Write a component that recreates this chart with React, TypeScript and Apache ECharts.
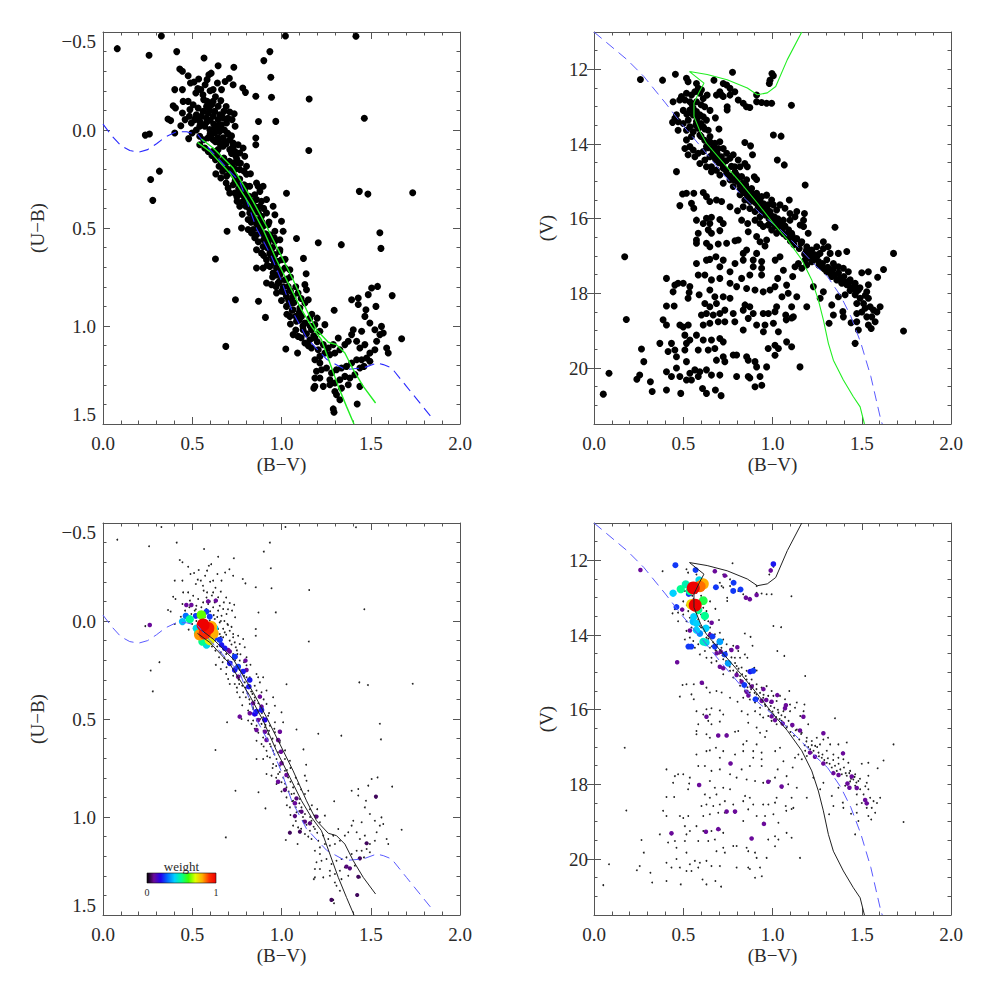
import React, { useEffect, useRef } from 'react';
import * as echarts from 'echarts';

// ---------- tick values ----------
const BV_MIN = 0, BV_MAX = 2, BV_STEP = 0.5;
const UB_MIN = -0.5, UB_MAX = 1.5, UB_STEP = 0.5;
const V_MIN = 11, V_MAX = 21.5, V_STEP = 0.5;
const V_MAJOR = [12, 14, 16, 18, 20];

// ---------- (B-V, U-B) stars ----------
const ubStars: number[][] = [
[0.08,-0.415],[0.327,-0.48],[0.258,-0.381],[0.413,-0.4],[0.566,-0.367],[0.645,-0.328],[0.733,-0.32],[0.935,-0.4],[0.901,-0.354],[1.022,-0.48],[1.417,-0.478],[0.94,-0.269],[0.783,-0.214],[0.798,-0.192],[0.856,-0.172],[0.944,-0.167],[1.155,-0.158],[1.464,-0.06],[0.871,-0.043],[0.968,-0.044],[0.856,0.041],[0.856,0.075],[1.153,0.105],[0.237,0.026],[0.26,0.02],[0.316,0.21],[0.267,0.253],[0.279,0.359],[1.028,0.323],[1.436,0.313],[1.484,0.327],[1.735,0.32],[1.551,0.524],[1.557,0.604],[1.206,0.575],[1.335,0.585],[1.084,0.554],[0.695,0.517],[0.63,0.658],[0.742,0.866],[0.871,0.874],[0.91,0.956],[0.688,1.104],[1.123,0.655],[1.138,0.733],
[0.43,-0.311],[0.445,-0.3],[0.477,-0.277],[0.49,-0.24],[0.51,-0.245],[0.536,-0.26],[0.593,-0.282],[0.606,-0.29],[0.583,-0.257],[0.572,-0.231],[0.548,-0.206],[0.531,-0.211],[0.402,-0.206],[0.445,-0.206],[0.52,-0.189],[0.617,-0.206],[0.664,-0.206],[0.684,-0.247],[0.708,-0.264],[0.729,-0.231],[0.641,-0.24],
[0.393,-0.124],[0.406,-0.112],[0.449,-0.146],[0.477,-0.146],[0.505,-0.129],[0.533,-0.112],[0.564,-0.155],[0.583,-0.146],[0.617,-0.146],[0.598,-0.1],[0.645,-0.121],[0.677,-0.095],[0.71,-0.092],[0.735,-0.083],[0.723,-0.053],[0.74,-0.019],[0.379,-0.048],[0.364,-0.056],[0.402,0.015],[0.436,-0.022],[0.46,-0.053],[0.484,-0.07],[0.445,-0.087],[0.487,-0.104],[0.523,-0.078],[0.551,-0.07],[0.579,-0.061],[0.617,-0.07],[0.645,-0.053],[0.664,-0.027],[0.692,-0.036],[0.697,0.015],[0.48,0.044],[0.499,0.015],[0.523,0],[0.542,-0.019],[0.57,-0.019],[0.598,-0.002],[0.626,-0.01],[0.654,0.007],[0.542,0.032],[0.564,0.05],[0.589,0.04],[0.617,0.05],[0.645,0.04],[0.673,0.04],[0.71,0.05],[0.542,0.075],[0.57,0.092],[0.589,0.109],[0.617,0.109],[0.645,0.1],[0.673,0.083],[0.71,0.1],[0.738,0.109],[0.766,0.117],[0.785,0.092],[0.794,0.134],[0.744,0.134],
[0.495,-0.036],[0.514,-0.053],[0.542,-0.044],[0.561,-0.095],[0.589,-0.087],[0.626,-0.095],[0.654,-0.078],[0.673,-0.061],[0.626,0.015],[0.607,0.024],[0.654,0.066],[0.682,0.058],[0.729,0.066],[0.757,0.075],[0.729,0.083],
[0.52,-0.06],[0.55,-0.03],[0.58,-0.04],[0.6,-0.05],[0.62,-0.03],[0.64,-0.02],[0.66,0.0],[0.68,0.0],[0.7,0.02],[0.72,0.03],[0.6,0.02],[0.63,0.06],[0.66,0.08],[0.69,0.07],[0.72,0.12],[0.75,0.15],[0.77,0.17],[0.79,0.21],[0.58,-0.12],[0.61,-0.13],[0.63,-0.17],[0.66,-0.15],[0.69,-0.12],[0.56,-0.18],[0.6,-0.2],[0.7,-0.06],
[0.63,0.151],[0.65,0.185],[0.677,0.143],[0.69,0.168],[0.708,0.16],[0.729,0.168],[0.753,0.168],[0.804,0.185],[0.766,0.202],[0.729,0.194],[0.71,0.219],[0.692,0.236],[0.66,0.245],[0.632,0.224],[0.738,0.236],[0.766,0.25],[0.804,0.226],[0.826,0.223],[0.804,0.287],[0.766,0.279],[0.729,0.279],[0.701,0.296],[0.71,0.321],[0.738,0.321],[0.763,0.321],[0.794,0.313],[0.822,0.287],[0.86,0.27],[0.869,0.287],[0.897,0.287],[0.879,0.313],[0.85,0.33],[0.819,0.338],[0.785,0.364],[0.751,0.364],[0.766,0.389],[0.8,0.389],[0.837,0.372],[0.86,0.355],[0.888,0.364],[0.916,0.355],[0.879,0.389],[0.85,0.406],[0.822,0.423],[0.841,0.449],[0.813,0.457],[0.86,0.457],[0.888,0.44],[0.916,0.423],[0.953,0.389],[0.963,0.432],[0.925,0.483],[0.897,0.491],[0.869,0.5],[0.841,0.508],[0.813,0.508],[0.776,0.5],[0.832,0.525],[0.86,0.534],[0.888,0.525],[0.907,0.542],[0.935,0.534],[0.963,0.517],[1.0,0.466],[1.009,0.517],[0.991,0.56],[0.963,0.568],[0.925,0.577],[0.897,0.594],[0.86,0.611],[0.888,0.628],[0.935,0.628],[0.963,0.636],[0.991,0.611],[1.0,0.662],[0.953,0.662],[0.916,0.662],[0.86,0.704],[0.897,0.704],[0.935,0.696],[0.972,0.704],[1.019,0.704],[1.047,0.713],[0.991,0.738],[0.953,0.73],[0.916,0.781],[0.944,0.789],[0.981,0.781],[1.019,0.764],[1.037,0.798],[1.0,0.823],[0.972,0.832],[1.028,0.849],[1.065,0.849],[1.093,0.832],[1.131,0.789],[1.14,0.815],[1.056,0.883],[1.028,0.9],[1.065,0.917],[1.103,0.908],[1.131,0.883],[1.15,0.866],[1.112,0.951],[1.084,0.976],[1.047,0.951],[1.131,0.985],[1.159,0.96],[1.187,0.993],[1.168,1.019],[1.121,1.019],[1.065,1.044],[1.093,1.053],[1.243,0.993],[1.215,1.027],[1.187,1.061],[1.159,1.07],[1.131,1.087],[1.168,1.112],[1.206,1.121],[1.234,1.095],[1.262,1.112],[1.29,1.095],[1.318,1.061],[1.295,0.92],[1.024,1.117],[1.09,1.138],[1.243,1.138],[1.215,1.155],[1.187,1.172],[1.215,1.189],[1.271,1.146],[1.299,1.138],[1.327,1.121],[1.355,1.095],[1.374,1.078],[1.393,1.044],[1.402,1.019],[1.449,1.027],[1.421,1.078],[1.439,1.112],[1.467,1.095],[1.495,1.138],[1.523,1.121],[1.533,1.078],[1.551,1.044],[1.56,1.002],[1.523,1.019],[1.495,0.985],[1.467,0.951],[1.473,0.917],[1.43,0.89],[1.393,0.866],[1.43,0.857],[1.486,0.84],[1.505,0.806],[1.538,0.798],[1.529,0.9],[1.62,0.845],[1.673,1.065],[1.589,1.112],[1.598,1.138],[1.57,1.036],[1.477,1.163],[1.449,1.172],[1.421,1.172],[1.393,1.189],[1.364,1.206],[1.336,1.214],[1.308,1.223],[1.28,1.24],[1.252,1.214],[1.224,1.223],[1.196,1.231],[1.215,1.265],[1.187,1.265],[1.271,1.274],[1.299,1.291],[1.327,1.274],[1.355,1.257],[1.383,1.265],[1.411,1.248],[1.439,1.308],[1.374,1.3],[1.336,1.317],[1.299,1.334],[1.271,1.3],[1.234,1.308],[1.187,1.308],[1.181,1.317],[1.308,1.351],[1.327,1.376],[1.29,1.423],[1.294,1.44],[1.424,1.398],[1.439,1.214],[1.462,1.206],[1.495,1.18],
[0.61,0.13],[0.64,0.13],[0.66,0.16],[0.68,0.19],[0.7,0.2],[0.72,0.21],[0.74,0.26],[0.76,0.3],[0.78,0.33],[0.79,0.28],[0.8,0.34],[0.82,0.4],[0.83,0.36],[0.84,0.44],[0.85,0.39],[0.86,0.48],[0.87,0.42],[0.88,0.5],[0.89,0.47],[0.9,0.56],[0.91,0.53],[0.92,0.6],[0.93,0.56],[0.94,0.64],[0.95,0.6],[0.96,0.68],[0.97,0.74],[0.98,0.67],[0.99,0.77],[1.0,0.72],[1.01,0.8],[1.02,0.83],[1.03,0.76],[1.04,0.87],[1.05,0.82],[1.06,0.92],[1.07,0.88],[1.08,0.95],[1.1,0.97],[1.1,0.93],[1.12,1.0],[1.14,1.04],[1.16,1.0],[1.18,1.05],[1.2,1.08],
[0.74,0.2],[0.67,0.21],[0.69,0.27],[0.75,0.34],[0.78,0.43],[0.81,0.37],[0.83,0.47],[0.85,0.55],[0.87,0.57],[0.9,0.64],[0.92,0.69],[0.95,0.75],[0.97,0.8],[1.0,0.87],[1.03,0.94],[1.05,0.99],[1.08,1.02],[1.11,1.06],[1.15,1.1],[0.9,0.4],[0.93,0.47],[0.96,0.55],[0.99,0.62],[1.02,0.66],[1.05,0.75],[1.08,0.8],[1.11,0.86],[1.17,0.94],[1.2,0.96]
];

// ---------- (B-V, V) stars ----------
const vStars: number[][] = [
[0.26,12.27],[0.384,12.29],[0.456,12.13],[0.776,12.08],[0.997,12.11],[1.005,12.17],[0.986,12.29],[0.982,12.38],[1.106,12.96],
[0.518,12.24],[0.527,12.33],[0.574,12.38],[0.584,12.51],[0.602,12.55],[0.565,12.6],[0.593,12.64],[0.546,12.69],[0.518,12.64],[0.49,12.73],[0.48,12.82],[0.509,12.82],[0.443,12.87],[0.537,12.87],[0.574,12.87],[0.612,12.78],[0.634,12.69],
[0.672,12.29],[0.724,12.38],[0.743,12.42],[0.705,12.6],[0.686,12.69],[0.724,12.73],[0.762,12.69],[0.789,12.6],[0.808,12.82],[0.746,13.0],[0.746,13.09],[0.836,12.91],[0.854,13.0],[0.873,13.02],[0.911,12.69],[0.911,12.87],[0.939,12.89],[0.967,12.91],[0.995,12.91],[0.762,12.51],[0.715,12.69],
[0.462,13.22],[0.453,13.31],[0.44,13.42],[0.471,13.4],[0.5,13.45],[0.528,13.36],[0.537,13.09],[0.556,13.04],[0.556,13.22],[0.574,13.13],[0.593,13.22],[0.612,13.27],[0.63,13.36],[0.574,13.4],[0.537,13.54],[0.518,13.63],[0.471,13.63],[0.556,13.67],[0.584,13.58],[0.612,13.54],[0.64,13.63],[0.593,13.76],[0.546,13.8],[0.518,13.89],[0.537,14.07],[0.509,14.12],[0.556,14.16],[0.527,14.29],[0.565,14.34],[0.584,14.25],[0.612,14.2],[0.63,14.07],[0.649,13.94],[0.677,13.98],[0.705,13.94],[0.724,14.12],[0.696,14.12],[0.668,14.2],[0.649,14.34],[0.621,14.43],[0.593,14.52],[0.63,14.61],[0.658,14.61],[0.686,14.43],[0.714,14.34],[0.743,14.25],[0.762,14.38],[0.78,14.29],[0.808,14.43],[0.845,14.52],[0.845,13.96],[0.877,14.05],[0.888,14.29],[0.859,14.61],[0.818,14.61],[0.789,14.61],[0.724,14.65],[0.743,14.79],[0.705,14.83],[0.686,14.7],[0.658,14.74],[0.462,14.74],[0.799,14.83],[0.827,14.87],[0.855,14.96],[0.898,14.88],[0.911,14.95],[0.762,14.96],[0.724,15.05],[0.78,15.14],[0.818,15.1],[0.855,15.19],[0.883,15.19],[0.911,15.32],[0.939,15.41],[0.967,15.37],[0.995,15.5],[1.005,15.63],[0.976,15.63],[0.948,15.68],[0.911,15.59],[0.873,15.54],[0.845,15.5],[0.818,15.36],[0.836,15.68],[0.873,15.73],[0.902,15.81],[0.93,15.95],[0.958,15.86],[0.986,15.81],[1.023,15.77],[1.042,15.63],[1.07,15.72],[1.094,15.5],[1.098,15.86],[1.126,15.95],[1.136,15.81],[1.179,15.86],[1.183,15.1],[1.005,13.76],[1.048,13.79],[1.027,14.43],[1.066,14.56],[1.174,16.04],[1.155,16.17],[1.174,16.21],[1.2,16.39],[1.098,16.04],[1.061,16.04],[1.033,16.08],[1.005,16.13],[0.976,16.17],[0.948,16.21],[0.995,16.3],[1.023,16.39],[1.051,16.3],[1.079,16.48],[1.107,16.39],[1.136,16.53],[1.164,16.62],[1.192,16.75],[1.22,16.84],[1.248,16.75],[1.285,16.62],[1.285,16.8],[1.311,16.75],[1.35,16.23],[1.266,16.93],[1.323,16.93],[1.369,16.93],[1.416,16.88],[1.678,16.93],[1.304,17.1],[1.341,17.2],[1.369,17.29],[1.397,17.33],[1.425,17.42],[1.5,17.45],[1.537,17.42],[1.622,17.36],[1.589,17.57],[1.239,16.97],[1.211,17.06],[1.183,17.1],[1.145,17.2],[1.126,17.29],[1.164,17.33],[1.192,17.24],[1.22,17.15],[1.258,17.15],[1.276,17.29],[1.304,17.42],[1.332,17.55],[1.36,17.64],[1.388,17.73],[1.416,17.77],[1.435,17.64],[1.463,17.73],[1.453,17.87],[1.481,17.91],[1.435,17.92],[1.407,18.04],[1.369,18.09],[1.463,18.04],[1.491,18.13],[1.472,18.27],[1.51,18.27],[1.537,17.77],[1.528,17.96],[1.537,18.13],[1.519,18.4],[1.547,18.36],[1.566,18.45],[1.603,18.36],[1.585,18.5],[1.472,18.54],[1.5,18.5],[1.528,18.63],[1.556,18.63],[1.575,18.76],[1.472,18.76],[1.44,18.79],[1.481,18.98],[1.537,18.85],[1.553,18.94],[1.734,19.01],[1.463,19.34],[1.394,18.49],[1.332,18.31],[1.341,18.58],[1.317,18.8],[1.285,17.96],[1.229,17.82],[1.267,18.13],[1.397,18.63],
[0.57,13.5],[0.6,13.8],[0.62,13.9],[0.64,14.1],[0.66,14.3],[0.68,14.4],[0.7,14.5],[0.72,14.55],[0.74,14.7],[0.76,14.85],[0.78,14.95],[0.8,15.0],[0.82,15.2],[0.84,15.3],[0.86,15.4],[0.88,15.45],[0.9,15.55],[0.92,15.7],[0.94,15.8],[0.96,15.9],[0.98,16.0],[1.0,16.05],[1.02,16.2],[1.04,16.25],[1.06,16.4],[1.08,16.45],[1.1,16.6],[1.12,16.7],[1.15,16.8],[1.18,16.95],[1.2,17.0],[1.23,17.1],[1.26,17.25],[1.29,17.35],[1.32,17.45],[1.35,17.5],[1.38,17.6],[1.41,17.7],[1.44,17.85],[1.47,17.95],
[0.58,13.3],[0.6,13.45],[0.62,13.6],[0.65,13.8],[0.67,14.05],[0.69,14.25],[0.71,14.4],[0.74,14.45],[0.77,14.6],[0.79,14.75],[0.81,14.9],[0.83,15.05],[0.85,15.1],[0.87,15.3],[0.89,15.35],[0.91,15.45],[0.93,15.55],[0.95,15.6],[0.97,15.75],[0.99,15.9],[1.01,15.95],[1.03,16.0],[1.05,16.15],[1.07,16.2],[1.09,16.3],[1.11,16.45],[1.13,16.55],[1.16,16.65],[1.19,16.85],[1.22,16.95],[1.25,17.0],[1.28,17.2],[1.31,17.3],[1.34,17.35],[1.37,17.45],[1.4,17.55],[1.43,17.7],[1.46,17.8],[1.49,17.85],[1.52,18.05],[0.55,12.95],[0.6,12.95],[0.62,13.0],[0.5,13.1],[0.52,13.2],[0.65,13.1],[0.68,13.3],[0.7,13.6],
[0.496,15.34],[0.518,15.32],[0.559,15.32],[0.612,15.3],[0.63,15.41],[0.546,15.59],[0.559,15.72],[0.481,15.65],[0.649,15.54],[0.686,15.5],[0.715,15.54],[0.762,15.68],[0.804,15.79],
[0.574,16.04],[0.63,15.99],[0.658,15.96],[0.705,16.02],[0.612,16.13],[0.649,16.13],[0.724,16.13],[0.827,16.04],[0.861,16.13],[0.902,16.04],[0.93,16.13],[0.584,16.39],[0.64,16.3],[0.658,16.39],[0.705,16.32],[0.574,16.57],[0.574,16.66],[0.63,16.66],[0.649,16.75],[0.696,16.68],[0.743,16.66],[0.79,16.59],[0.808,16.57],[0.864,16.35],[0.911,16.48],[0.93,16.62],[0.967,16.57],[0.958,16.73],[0.855,16.84],[0.911,16.93],[0.836,16.93],[0.574,17.2],[0.63,17.11],[0.649,17.09],[0.683,17.02],[0.705,17.29],[0.724,17.11],[0.79,17.2],[0.836,17.11],[0.892,17.11],[0.939,17.15],[1.015,17.11],[1.042,17.02],[1.061,17.38],[1.113,17.55],[1.029,17.6],[0.939,17.33],[0.892,17.29],[0.762,17.42],[0.584,17.51],[0.621,17.51],[0.658,17.64],[0.705,17.6],[0.762,17.73],[0.827,17.6],[0.873,17.51],[0.939,17.51],[0.799,17.82],[0.855,17.87],[0.902,17.91],[0.948,17.96],[0.986,17.91],[1.014,17.82],[1.079,17.78],[1.136,18.09],[1.192,18.36],[1.107,18.36],[1.088,18.0],[1.053,18.09],
[0.406,17.6],[0.453,17.78],[0.471,17.73],[0.5,17.73],[0.537,17.82],[0.443,17.96],[0.533,17.98],[0.527,18.13],[0.589,18.04],[0.649,17.91],[0.677,18.09],[0.724,18.09],[0.762,18.13],[0.686,18.27],[0.649,18.36],[0.621,18.27],[0.406,18.34],[0.449,18.34],[0.602,18.58],[0.63,18.54],[0.668,18.58],[0.705,18.54],[0.733,18.45],[0.78,18.54],[0.836,18.45],[0.846,18.31],[0.873,18.36],[0.892,18.54],[0.864,18.67],[0.948,18.54],[0.977,18.54],[1.023,18.36],[1.014,18.49],[1.074,18.58],[1.077,18.71],
[0.387,18.71],[0.406,18.85],[0.481,18.85],[0.5,18.9],[0.528,18.85],[0.612,18.85],[0.649,18.8],[0.696,18.76],[0.733,18.76],[0.789,18.76],[0.836,18.98],[0.911,18.85],[0.958,18.85],[1.005,18.8],[0.949,19.03],[1.033,19.03],[1.107,18.66],[1.117,18.63],
[0.369,19.34],[0.434,19.34],[0.453,19.52],[0.415,19.56],[0.462,19.7],[0.509,19.12],[0.537,19.25],[0.518,19.34],[0.574,19.12],[0.612,19.25],[0.658,19.25],[0.705,19.21],[0.724,19.3],[0.677,19.48],[0.64,19.52],[0.584,19.52],[0.509,19.52],[0.462,20.0],[0.518,19.83],[0.537,20.14],[0.565,20.05],[0.593,20.1],[0.63,20.05],[0.658,20.19],[0.686,19.79],[0.724,19.7],[0.733,19.83],[0.78,19.65],[0.799,19.65],[0.799,20.23],[0.705,20.19],[0.855,19.7],[0.864,19.79],[0.902,19.83],[0.911,19.97],[0.864,20.23],[0.873,20.27],[0.93,20.23],[0.94,20.46],[0.902,20.5],[0.967,19.97],[0.976,19.48],[1.014,19.39],[1.033,19.48],[1.079,19.3],[1.107,19.43],[1.154,19.97],[1.014,19.66],
[0.24,20.3],[0.256,20.19],[0.266,19.49],[0.279,19.83],[0.316,20.37],[0.326,20.63],[0.084,20.14],[0.052,20.7],[0.172,17.02],[0.181,18.7],[0.406,20.1],[0.434,20.23],[0.481,20.23],[0.486,20.68],[0.518,20.32],[0.546,20.32],[0.608,20.55],[0.63,20.68],[0.68,20.59],[0.712,20.74],[0.584,20.23],[0.406,20.59]
];

// ---------- weighted members [B-V, U-B, weight] ----------
const ubWeighted: number[][] = [
[0.262,0.02,0.1],[0.495,-0.082,0.1],[0.467,-0.082,0.1],[0.58,-0.048,0.25],[0.445,0.003,0.38],[0.464,-0.026,0.3],[0.486,-0.009,0.5],[0.551,-0.031,0.62],[0.523,0.037,0.42],[0.561,0.02,1.0],[0.589,0.037,0.95],[0.57,0.063,0.92],[0.617,0.063,0.8],[0.542,0.071,0.82],[0.533,0.063,0.5],[0.626,0.037,0.4],[0.58,0.122,0.42],[0.557,0.105,0.5],[0.598,0.097,0.72],[0.654,0.097,0.25],[0.664,0.122,0.22],[0.682,0.139,0.22],[0.71,0.156,0.1],[0.738,0.182,0.25],[0.71,0.216,0.22],[0.738,0.25,0.22],[0.757,0.233,0.25],[0.785,0.258,0.22],[0.804,0.25,0.1],[0.757,0.284,0.1],[0.822,0.301,0.22],[0.798,0.202,0.1],[0.817,0.335,0.22],[0.879,0.386,0.1],[0.841,0.42,0.1],[0.888,0.437,0.1],[0.86,0.462,0.22],[0.822,0.471,0.1],[0.85,0.474,0.2],[0.888,0.454,0.22],[0.907,0.505,0.2],[0.869,0.505,0.1],[0.766,0.488,0.1],[0.86,0.556,0.1],[0.907,0.565,0.1],[0.916,0.607,0.1],[0.991,0.565,0.1],[0.981,0.607,0.1],[0.997,0.667,0.1],[1.0,0.726,0.1],[1.028,0.786,0.1],[0.981,0.82,0.1],[1.019,0.862,0.08],[1.075,0.93,0.1],[1.084,0.905,0.08],[1.112,0.973,0.08],[1.075,0.995,0.08],[1.131,1.024,0.08],[1.159,1.032,0.08],[1.196,0.998,0.08],[1.103,1.075,0.06],[1.047,1.08,0.06],[1.364,1.253,0.08],[1.383,1.262,0.08],[1.43,1.305,0.06],[1.439,1.211,0.06],[1.477,1.134,0.06],[1.529,0.896,0.06],[1.424,1.398,0.06],[1.28,1.423,0.06],[0.632,-0.104,0.1],[0.589,-0.1,0.1],[0.598,-0.022,0.25],[0.52,-0.026,0.25],[0.608,0.029,0.8],[0.626,0.088,0.25],[0.655,0.095,0.22],[0.701,0.148,0.1],[0.739,0.182,0.2]
];

// ---------- weighted members [B-V, V, weight] ----------
const vWeighted: number[][] = [
[0.456,12.13,0.25],[0.26,12.26,0.1],[0.569,12.26,0.25],[0.677,12.29,0.1],[0.733,12.41,0.1],[0.782,12.6,0.25],[0.78,12.82,0.25],[0.821,12.78,0.25],[0.683,12.72,0.25],[0.851,13.0,0.1],[0.873,13.04,0.1],[0.911,12.93,0.1],[1.005,12.1,0.22],[0.99,12.27,0.1],
[0.443,12.88,0.4],[0.486,12.77,0.5],[0.514,12.64,0.47],[0.537,12.82,0.5],[0.589,12.53,0.42],[0.612,12.63,0.8],[0.593,12.7,0.85],[0.556,12.74,1.0],[0.531,12.9,0.25],[0.567,13.2,1.0],[0.546,13.18,0.75],[0.612,13.08,0.55],[0.584,13.33,0.5],[0.621,13.49,0.5],[0.559,13.51,0.4],[0.574,13.69,0.4],[0.555,13.64,0.38],[0.627,13.82,0.4],[0.574,13.87,0.4],[0.593,13.96,0.33],[0.612,14.18,0.45],[0.627,14.2,0.42],[0.705,14.18,0.35],[0.462,13.25,0.25],[0.494,13.32,0.1],[0.529,14.31,0.25],[0.545,14.31,0.25],[0.466,14.73,0.1],[0.537,13.88,0.1],[0.659,13.67,0.1],[0.65,14.0,0.1],[0.664,14.04,0.25],[0.677,14.31,0.25],[0.687,14.49,0.1],[0.71,14.45,0.1],[0.733,14.52,0.25],[0.803,14.33,0.1],[0.77,14.4,0.1],[0.752,14.76,0.35],[0.724,14.89,0.1],[0.705,14.85,0.1],[0.892,14.96,0.25],[0.875,14.98,0.22],[0.799,15.07,0.1],[0.827,15.25,0.1],[0.842,15.34,0.25],[0.855,15.52,0.1],[0.883,15.38,0.1],[0.905,15.72,0.25],[0.865,15.62,0.1],[0.949,15.45,0.1],[0.939,15.76,0.1],[0.965,15.74,0.1],[0.995,15.79,0.1],[1.027,15.61,0.1],[1.07,15.96,0.1],[1.075,15.88,0.1],[0.995,16.18,0.1],[1.014,16.28,0.1],[1.057,16.37,0.1],[1.111,16.41,0.1],[1.154,16.56,0.1],[1.173,16.19,0.1],[1.21,17.15,0.1],[1.238,17.26,0.1],[1.285,16.63,0.1],[1.285,17.44,0.1],[1.341,17.7,0.1],[1.37,17.75,0.1],[1.395,17.17,0.1],[1.444,17.79,0.1],[1.42,17.98,0.1],[1.472,18.1,0.1],[1.431,18.09,0.1],[1.519,18.42,0.1],[1.528,18.51,0.1],[0.696,16.69,0.1],[0.743,16.69,0.1],[0.63,16.19,0.1],[0.604,15.28,0.1],[0.765,17.44,0.1],[0.589,18.02,0.1],[0.976,17.93,0.1],[1.051,18.06,0.1],[0.434,19.31,0.1],[0.627,19.27,0.1],[0.696,19.2,0.1],[0.743,18.73,0.1],[0.79,18.73,0.1],[0.883,19.45,0.1],[0.952,19.06,0.1]
];

// ---------- reference curves ----------
const ubIsoA: number[][] = [[0.551,0.046],[0.617,0.092],[0.729,0.194],[0.841,0.364],[0.916,0.491],[0.991,0.628],[1.065,0.764],[1.14,0.917],[1.196,1.019],[1.262,1.083],[1.308,1.095],[1.355,1.138],[1.402,1.223],[1.458,1.308],[1.527,1.393]];
const ubIsoB: number[][] = [[0.529,0.063],[0.598,0.109],[0.71,0.219],[0.822,0.381],[0.897,0.508],[0.972,0.662],[1.047,0.798],[1.112,0.917],[1.168,1.002],[1.224,1.07],[1.271,1.189],[1.318,1.308],[1.364,1.41],[1.406,1.5]];
const ubDwarf: number[][] = [[0,-0.03],[0.05,0.03],[0.1,0.08],[0.15,0.105],[0.2,0.113],[0.25,0.1],[0.3,0.07],[0.35,0.035],[0.41,0.009],[0.468,0.009],[0.531,0.024],[0.6,0.1],[0.7,0.2],[0.767,0.264],[0.823,0.407],[0.86,0.502],[0.944,0.645],[1.0,0.77],[1.057,0.917],[1.14,1.06],[1.253,1.17],[1.356,1.222],[1.458,1.214],[1.533,1.189],[1.57,1.197],[1.617,1.214],[1.7,1.308],[1.851,1.478]];
const vIso: number[][] = [[1.515,21.5],[1.491,21.04],[1.453,20.77],[1.397,20.32],[1.341,19.79],[1.313,19.34],[1.285,18.71],[1.257,18.18],[1.22,17.64],[1.164,17.1],[1.098,16.66],[1.083,16.56],[1.0,16.1],[0.915,15.58],[0.822,15.04],[0.709,14.42],[0.63,13.98],[0.597,13.7],[0.56,13.26],[0.56,12.9],[0.59,12.6],[0.616,12.37],[0.535,12.06],[0.634,12.14],[0.746,12.28],[0.859,12.5],[0.915,12.68],[0.971,12.63],[1.018,12.46],[1.083,11.74],[1.164,11.0]];
const vDwarf: number[][] = [[0,11.0],[0.185,11.74],[0.279,12.19],[0.4,12.9],[0.494,13.48],[0.597,14.06],[0.709,14.72],[0.822,15.35],[0.93,15.85],[1.046,16.3],[1.158,16.83],[1.248,17.29],[1.308,17.55],[1.383,18.08],[1.439,18.62],[1.495,19.33],[1.551,20.23],[1.607,21.39],[1.615,21.5]];

const CMAP = ['#000000','#6a0a9a','#2200ee','#0070ff','#00d0ff','#00ff90','#40ff00','#e0ff00','#ffb000','#ff3000','#ee0000'];

const AX = '#555';
const TXT = '#2a2a2a';
const FONT = '"Liberation Serif", "Times New Roman", serif';

const GRIDS = [
  { left: 103, top: 32, width: 357, height: 392 },
  { left: 594, top: 32, width: 357, height: 392 },
  { left: 103, top: 523, width: 357, height: 392 },
  { left: 594, top: 523, width: 357, height: 392 },
];

function buildOption() {
  const xAxes: any[] = [];
  const yAxes: any[] = [];
  const series: any[] = [];

  const tickStyle = { color: AX, width: 1 };
  const fmt1 = (v: number) => v.toFixed(1).replace('-', '\u2212');

  const addX = (gi: number) => {
    const idx = xAxes.length;
    const base = {
      type: 'value', gridIndex: gi, min: BV_MIN, max: BV_MAX, interval: BV_STEP,
      splitLine: { show: false },
      axisLine: { onZero: false, lineStyle: tickStyle },
      axisTick: { inside: true, length: 7, lineStyle: tickStyle },
      minorTick: { show: true, splitNumber: 5, length: 3.5, lineStyle: tickStyle },
    };
    xAxes.push({
      ...base, position: 'bottom',
      name: '(B\u2212V)', nameLocation: 'middle', nameGap: 31,
      nameTextStyle: { fontFamily: FONT, fontSize: 19, color: TXT },
      axisLabel: { fontFamily: FONT, fontSize: 19, color: TXT, margin: 10, formatter: fmt1 },
    });
    xAxes.push({ ...base, position: 'top', axisLabel: { show: false } });
    return idx;
  };

  const addUB = (gi: number) => {
    const idx = yAxes.length;
    const base = {
      type: 'value', gridIndex: gi, min: UB_MIN, max: UB_MAX, interval: UB_STEP, inverse: true,
      splitLine: { show: false },
      axisLine: { onZero: false, lineStyle: tickStyle },
      axisTick: { inside: true, length: 7, lineStyle: tickStyle },
      minorTick: { show: true, splitNumber: 5, length: 3.5, lineStyle: tickStyle },
    };
    yAxes.push({
      ...base, position: 'left',
      name: '(U\u2212B)', nameLocation: 'middle', nameGap: 56,
      nameTextStyle: { fontFamily: FONT, fontSize: 19, color: TXT },
      axisLabel: { fontFamily: FONT, fontSize: 19, color: TXT, margin: 7, formatter: fmt1,
        verticalAlignMinLabel: 'top', verticalAlignMaxLabel: 'bottom' },
    });
    yAxes.push({ ...base, position: 'right', axisLabel: { show: false } });
    return idx;
  };

  const addV = (gi: number) => {
    const idx = yAxes.length;
    const base = {
      type: 'value', gridIndex: gi, min: V_MIN, max: V_MAX, interval: V_STEP, inverse: true,
      splitLine: { show: false },
      axisLine: { onZero: false, lineStyle: tickStyle },
      axisTick: { inside: true, length: 3.5, lineStyle: tickStyle },
      axisLabel: { show: false },
    };
    yAxes.push({
      ...base, position: 'left',
      name: '(V)', nameLocation: 'middle', nameGap: 38,
      nameTextStyle: { fontFamily: FONT, fontSize: 19, color: TXT },
      axisLabel: { show: true, fontFamily: FONT, fontSize: 19, color: TXT, margin: 6,
        customValues: V_MAJOR,
        formatter: (v: number) => (Math.abs(v % 2) < 1e-9 ? String(v) : '') },
    });
    yAxes.push({ ...base, position: 'right' });
    const longTick = { show: true, inside: true, length: 7, lineStyle: tickStyle, customValues: V_MAJOR };
    yAxes.push({ ...base, position: 'left', axisLine: { show: false }, axisTick: longTick });
    yAxes.push({ ...base, position: 'right', axisLine: { show: false }, axisTick: longTick });
    return idx;
  };

  const line = (data: number[][], xi: number, yi: number, color: string, width: number, dashed: boolean) => ({
    type: 'line', xAxisIndex: xi, yAxisIndex: yi, data, showSymbol: false, symbol: 'none',
    silent: true, z: 5,
    lineStyle: { color, width, type: dashed ? [10, 6] : 'solid' },
  });

  const GREEN = '#22ee22';
  const BLUE_D = '#2a2aff';
  const BLUE_L = '#5a5aff';

  // Panel 0 : top-left
  let xi = addX(0), yi = addUB(0);
  series.push({ type: 'scatter', xAxisIndex: xi, yAxisIndex: yi, data: ubStars, symbolSize: 7, itemStyle: { color: '#000', opacity: 1 }, silent: true, z: 2 });
  series.push(line(ubDwarf, xi, yi, BLUE_D, 1.1, true));
  series.push(line(ubIsoA, xi, yi, GREEN, 1.4, false));
  series.push(line(ubIsoB, xi, yi, GREEN, 1.4, false));

  // Panel 1 : top-right
  xi = addX(1); yi = addV(1);
  series.push({ type: 'scatter', xAxisIndex: xi, yAxisIndex: yi, data: vStars, symbolSize: 7, itemStyle: { color: '#000', opacity: 1 }, silent: true, z: 2 });
  series.push(line(vDwarf, xi, yi, BLUE_L, 1, true));
  series.push(line(vIso, xi, yi, GREEN, 1.1, false));

  const wSorted = (a: number[][]) => a.slice().sort((p, q) => p[2] - q[2]);

  // Panel 2 : bottom-left
  xi = addX(2); yi = addUB(2);
  series.push({ type: 'scatter', xAxisIndex: xi, yAxisIndex: yi, data: ubStars, symbolSize: 1.8, itemStyle: { color: '#222', opacity: 1 }, silent: true, z: 2 });
  const cIdx1 = series.length;
  series.push({ type: 'scatter', xAxisIndex: xi, yAxisIndex: yi, data: wSorted(ubWeighted), itemStyle: { opacity: 1 }, silent: true, z: 3 });
  series.push(line(ubDwarf, xi, yi, BLUE_L, 1, true));
  series.push(line(ubIsoA, xi, yi, '#222', 1, false));
  series.push(line(ubIsoB, xi, yi, '#222', 1, false));

  // Panel 3 : bottom-right
  xi = addX(3); yi = addV(3);
  series.push({ type: 'scatter', xAxisIndex: xi, yAxisIndex: yi, data: vStars, symbolSize: 1.8, itemStyle: { color: '#222', opacity: 1 }, silent: true, z: 2 });
  const cIdx2 = series.length;
  series.push({ type: 'scatter', xAxisIndex: xi, yAxisIndex: yi, data: wSorted(vWeighted), itemStyle: { opacity: 1 }, silent: true, z: 3 });
  series.push(line(vDwarf, xi, yi, BLUE_L, 1, true));
  series.push(line(vIso, xi, yi, '#222', 1, false));

  const gradient = new echarts.graphic.LinearGradient(0, 0, 1, 0,
    CMAP.map((c, i) => ({ offset: i / (CMAP.length - 1), color: c })));

  return {
    animation: false,
    backgroundColor: '#ffffff',
    grid: GRIDS.map(g => ({ ...g, containLabel: false })),
    xAxis: xAxes,
    yAxis: yAxes,
    visualMap: [{
      type: 'continuous', show: false, seriesIndex: [cIdx1, cIdx2], dimension: 2,
      min: 0, max: 1, inRange: { color: CMAP, symbolSize: [3.6, 13], opacity: 1 },
    }],
    series,
    graphic: [
      { type: 'rect', shape: { x: 147, y: 873, width: 69, height: 10 }, style: { fill: gradient, stroke: '#111', lineWidth: 0.6 }, z: 10 },
      { type: 'text', x: 181.5, y: 866, style: { text: 'weight', font: '13px "Liberation Serif"', fill: TXT, align: 'center', verticalAlign: 'middle' }, z: 10 },
      { type: 'text', x: 147, y: 892, style: { text: '0', font: '10px "Liberation Serif"', fill: TXT, align: 'center', verticalAlign: 'middle' }, z: 10 },
      { type: 'text', x: 216, y: 892, style: { text: '1', font: '10px "Liberation Serif"', fill: TXT, align: 'center', verticalAlign: 'middle' }, z: 10 },
    ],
  };
}

export default function App() {
  const ref = useRef<HTMLDivElement>(null);
  useEffect(() => {
    if (!ref.current) return;
    const chart = echarts.init(ref.current, undefined, { renderer: 'svg' });
    chart.setOption(buildOption() as any);
    return () => chart.dispose();
  }, []);
  return (
    <div
      ref={ref}
      style={{ position: 'absolute', left: 0, top: 0, width: 981, height: 981, background: '#fff' }}
    />
  );
}
